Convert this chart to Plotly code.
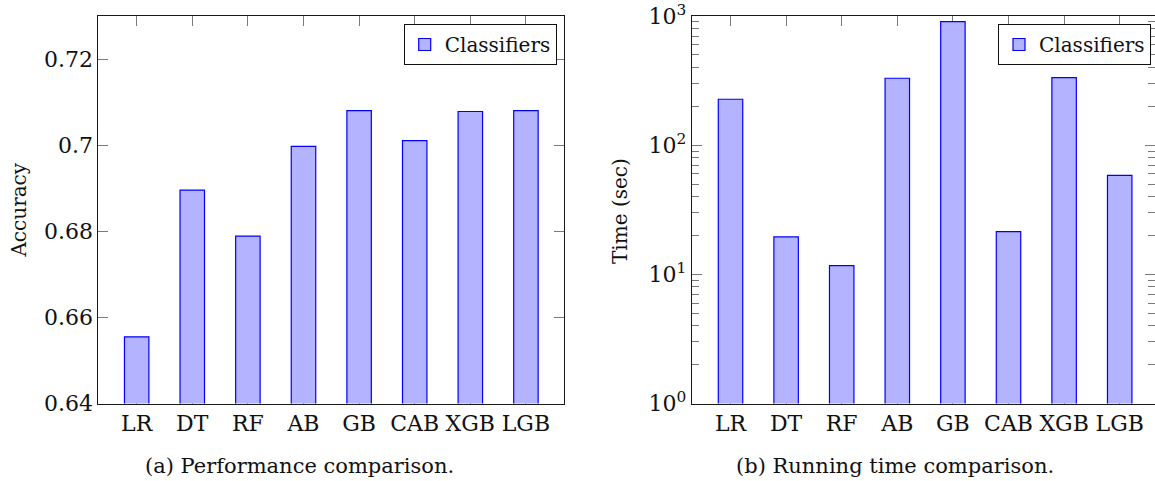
import plotly.graph_objects as go

W, H = 1155, 481

classifiers = ["LR", "DT", "RF", "AB", "GB", "CAB", "XGB", "LGB"]
accuracy = [0.6555, 0.6896, 0.6789, 0.6998, 0.7081, 0.7011, 0.7079, 0.7081]
time_sec = [227, 19.5, 11.7, 330, 905, 21.4, 334, 58.3]
acc_ticks = [0.64, 0.66, 0.68, 0.70, 0.72]
acc_ticktext = ["0.64", "0.66", "0.68", "0.7", "0.72"]
time_ticks = [1, 10, 100, 1000]
time_ticktext = ["10<sup>0</sup>", "10<sup>1</sup>", "10<sup>2</sup>", "10<sup>3</sup>"]
time_minor = [m * d for d in (1, 10, 100) for m in range(2, 10)]

FONT = "DejaVu Serif"
FS = 22
FILL = "rgb(179,179,255)"
EDGE = "rgb(0,0,255)"
SPINE = "#1a1a1a"
TICKC = "#7a7a7a"
TXT = "#111"

def px_x(p):
    return p / W

def px_y(p):
    return 1 - p / H

fig = go.Figure()
fig.add_trace(go.Bar(
    x=classifiers, y=accuracy, name="Classifiers", width=0.44,
    marker=dict(color=FILL, line=dict(color=EDGE, width=1.2)),
    xaxis="x", yaxis="y", legend="legend",
))
fig.add_trace(go.Bar(
    x=classifiers, y=time_sec, name="Classifiers", width=0.44,
    marker=dict(color=FILL, line=dict(color=EDGE, width=1.2)),
    xaxis="x2", yaxis="y2", legend="legend2",
))
# empty companion trace so the minor-tick overlay axis gets drawn
fig.add_trace(go.Scatter(
    x=classifiers, y=time_sec, mode="none", showlegend=False, hoverinfo="skip",
    xaxis="x2", yaxis="y3",
))

ydom = [px_y(403.5), px_y(16)]
common_x = dict(
    type="category", showline=True, linecolor=SPINE, linewidth=1, mirror="ticks",
    ticks="inside", ticklen=10, tickcolor=TICKC, tickwidth=1, showgrid=False,
    zeroline=False, layer="below traces", automargin=False,
    ticklabeloverflow="allow",
    tickfont=dict(family=FONT, size=FS, color=TXT),
)
common_y = dict(
    showline=True, linecolor=SPINE, linewidth=1, mirror="ticks",
    ticks="inside", ticklen=10, tickcolor=TICKC, tickwidth=1, showgrid=False,
    zeroline=False, layer="above traces", domain=ydom, automargin=False,
    ticklabeloverflow="allow",
    tickfont=dict(family=FONT, size=FS, color=TXT),
)

legend_style = dict(
    xanchor="right", yanchor="top", bgcolor="white", bordercolor=TXT, borderwidth=1,
    font=dict(family=FONT, size=20, color=TXT), tracegroupgap=0, itemwidth=30,
)

fig.update_layout(
    template="none",
    font=dict(family=FONT, size=FS, color=TXT),
    width=W, height=H, margin=dict(l=0, r=0, t=0, b=0, autoexpand=False),
    paper_bgcolor="white", plot_bgcolor="white",
    showlegend=True,
    xaxis=dict(common_x, domain=[px_x(98.3), px_x(564.3)], range=[-0.69, 7.69], anchor="y"),
    yaxis=dict(common_y, range=[0.64, 0.7301], tickvals=acc_ticks, ticktext=acc_ticktext,
               anchor="x"),
    xaxis2=dict(common_x, domain=[px_x(691.7), 1.0], range=[-0.698, 7.635], anchor="y2"),
    yaxis2=dict(common_y, type="log", range=[0, 3.0005], tickvals=time_ticks,
                ticktext=time_ticktext, anchor="x2"),
    # minor decade ticks on both sides of the log axis
    yaxis3=dict(type="log", range=[0, 3.0005], domain=ydom, anchor="x2", overlaying="y2",
                side="left", tickvals=time_minor, ticks="inside", ticklen=7,
                tickcolor=TICKC, tickwidth=1, mirror="ticks", showline=True,
                linecolor=SPINE, linewidth=1, showgrid=False, zeroline=False,
                showticklabels=False, automargin=False, layer="above traces"),
    legend=dict(legend_style, x=px_x(556.7), y=px_y(24)),
    legend2=dict(legend_style, x=px_x(1151), y=px_y(24)),
    annotations=[
        dict(text="Accuracy", x=px_x(18.6), y=px_y(210), xref="paper", yref="paper",
             xanchor="center", yanchor="middle", textangle=-90, showarrow=False,
             font=dict(family=FONT, size=20, color=TXT)),
        dict(text="Time (sec)", x=px_x(620), y=px_y(211), xref="paper", yref="paper",
             xanchor="center", yanchor="middle", textangle=-90, showarrow=False,
             font=dict(family=FONT, size=20, color=TXT)),
        dict(text="(a) Performance comparison.", x=px_x(299), y=px_y(466),
             xref="paper", yref="paper", xanchor="center", yanchor="middle",
             showarrow=False, font=dict(family=FONT, size=21, color=TXT)),
        dict(text="(b) Running time comparison.", x=px_x(895), y=px_y(466),
             xref="paper", yref="paper", xanchor="center", yanchor="middle",
             showarrow=False, font=dict(family=FONT, size=21, color=TXT)),
    ],
)

fig.write_html("out.html")
